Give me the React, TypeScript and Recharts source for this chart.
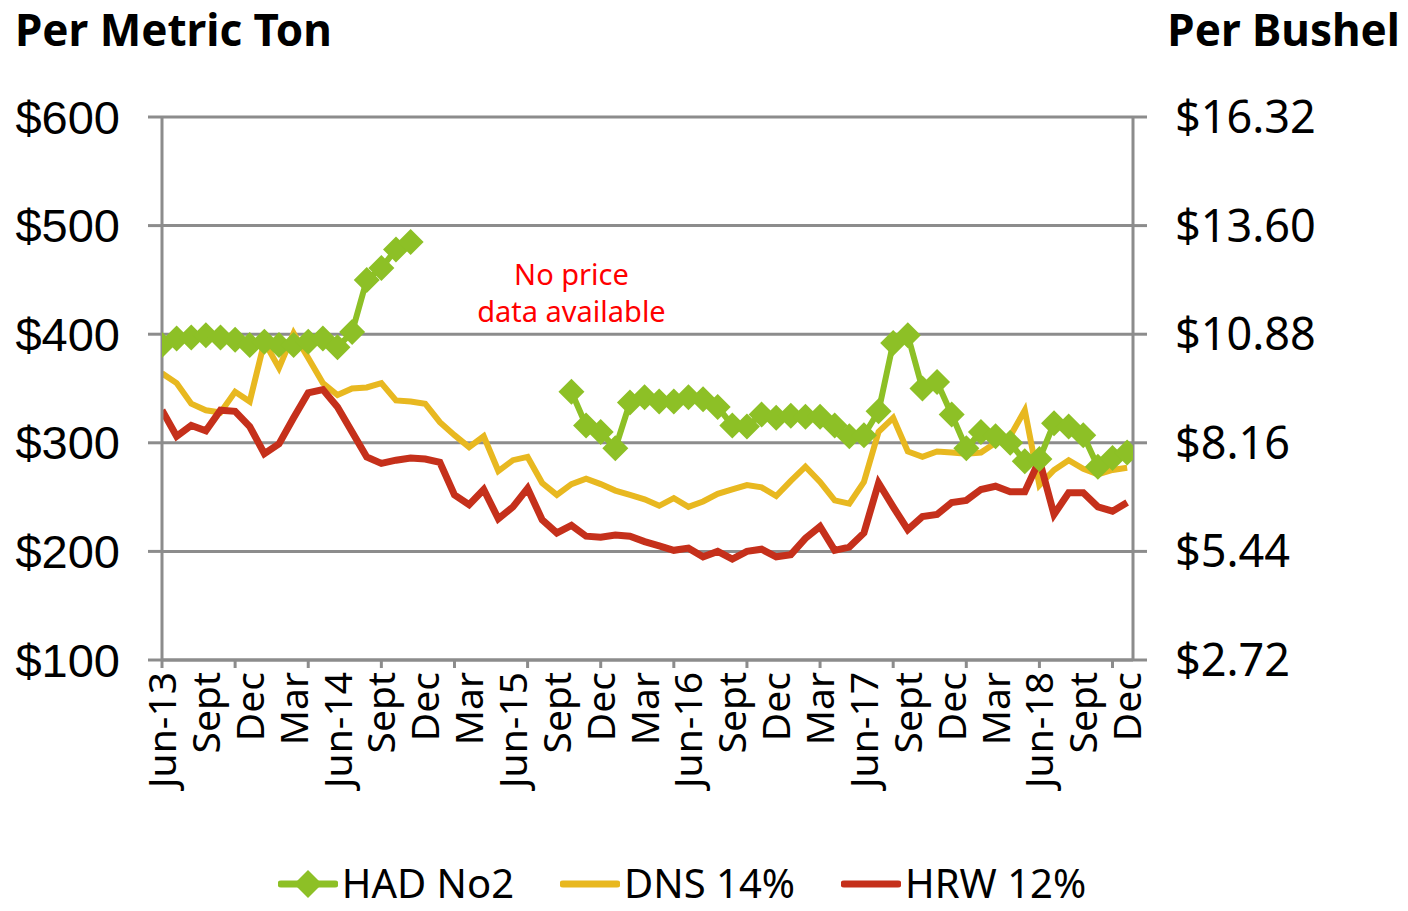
import React from 'react';
import {
  LineChart,
  Line,
  XAxis,
  YAxis,
  CartesianGrid,
  Legend,
  ReferenceDot
} from 'recharts';

// monthly prices, Jun-13 .. Dec-18 (67 months), $ per metric ton
const hadNo2: (number | null)[] = [
  390, 396, 397, 399, 397, 395, 390, 393, 390, 390, 393, 396, 388, 402, 450, 461, 478, 485,
  null, null, null, null, null, null, null, null, null, null,
  347, 316, 310, 295, 337, 342, 338, 338, 342, 340, 333, 316, 315, 326, 323, 325, 324, 324,
  316, 306, 307, 329, 392, 399, 350, 356, 326, 295, 310, 306, 300, 283, 285, 318, 315, 307,
  278, 286, 291
];

const dns14: number[] = [
  364, 355, 336, 330, 328, 347, 338, 393, 369, 401, 378, 355, 344, 350, 351, 355, 339, 338,
  336, 319, 307, 296, 306, 274, 284, 287, 263, 252, 262, 267, 262, 256, 252, 248, 242, 249,
  241, 246, 253, 257, 261, 259, 251, 265, 278, 264, 247, 244, 264, 310, 323, 292, 287, 292,
  291, 290, 291, 300, 306, 330, 261, 275, 284, 276, 271, 275, 277
];

const hrw12: number[] = [
  330, 306, 316, 311, 330, 329, 315, 290, 299, 323, 346, 349, 333, 310, 287, 281, 284, 286,
  285, 282, 252, 243, 257, 230, 241, 258, 229, 217, 224, 214, 213, 215, 214, 209, 205, 201,
  203, 195, 200, 193, 200, 202, 195, 197, 212, 223, 201, 204, 217, 263, 241, 220, 232, 234,
  245, 247, 257, 260, 255, 255, 284, 234, 254, 254, 241, 237, 245
];

// every third month gets a label
const monthLabels = [
  'Jun-13', 'Sept', 'Dec', 'Mar', 'Jun-14', 'Sept', 'Dec', 'Mar', 'Jun-15', 'Sept', 'Dec',
  'Mar', 'Jun-16', 'Sept', 'Dec', 'Mar', 'Jun-17', 'Sept', 'Dec', 'Mar', 'Jun-18', 'Sept', 'Dec'
];

const perTonTicks = [100, 200, 300, 400, 500, 600];
const perBushelLabels = ['$2.72', '$5.44', '$8.16', '$10.88', '$13.60', '$16.32'];

const seriesOrder = ['had', 'dns', 'hrw'];

const data = hadNo2.map((_, i) => ({
  i,
  had: hadNo2[i],
  dns: dns14[i],
  hrw: hrw12[i]
}));

// labels every 3 months, tick marks every 5 months
const xTicks = data.map(d => d.i).filter(i => i % 3 === 0 || i % 5 === 0);

const GREEN = '#8DC026';
const YELLOW = '#E8B820';
const RED = '#C5301B';
const GRAY = '#8C8C8C';

const MonthTick = (props: any) => {
  const { x, y, payload } = props;
  const i = payload.value;
  return (
    <g>
      {i % 5 === 0 && (
        <line x1={x} x2={x} y1={y} y2={y + 8} stroke={GRAY} strokeWidth={3} />
      )}
      {i % 3 === 0 && (
        <text
          transform={`translate(${x},${y + 12}) rotate(-90)`}
          textAnchor="end"
          dy="0.36em"
          fill="#000"
          fontSize={39}
          fontFamily="Noto Sans"
        >
          {monthLabels[i / 3]}
        </text>
      )}
    </g>
  );
};

const Diamond = (props: any) => {
  const { cx, cy, index } = props;
  if (cx == null || cy == null) return <g key={index} />;
  const s = 13;
  return (
    <polygon
      key={index}
      points={`${cx},${cy - s} ${cx + s},${cy} ${cx},${cy + s} ${cx - s},${cy}`}
      fill={GREEN}
    />
  );
};

const NoDataLabel = (props: any) => {
  const { viewBox } = props;
  const cx = viewBox.x + (viewBox.width || 0) / 2;
  const cy = viewBox.y + (viewBox.height || 0) / 2;
  return (
    <g fill="#FF0000" fontSize={29} fontFamily="Noto Sans">
      <text x={cx} y={cy - 8} textAnchor="middle">No price</text>
      <text x={cx} y={cy + 29} textAnchor="middle">data available</text>
    </g>
  );
};

const LegendContent = ({ payload }: any) => {
  const items = [...(payload || [])].sort(
    (a: any, b: any) => seriesOrder.indexOf(a.dataKey) - seriesOrder.indexOf(b.dataKey)
  );
  return (
    <div
      style={{
        display: 'flex',
        justifyContent: 'center',
        alignItems: 'center',
        gap: 46,
        height: 40,
        fontFamily: 'Noto Sans',
        fontSize: 40,
        lineHeight: '40px',
        color: '#000'
      }}
    >
      {items.map((entry: any) => (
        <div key={entry.value} style={{ display: 'flex', alignItems: 'center', height: 40 }}>
          <svg width={60} height={30} style={{ marginTop: 2 }}>
            <line x1={3} x2={57} y1={15} y2={15} stroke={entry.color} strokeWidth={7} strokeLinecap="round" />
            {entry.dataKey === 'had' && (
              <polygon points="30,1 44,15 30,29 16,15" fill={entry.color} />
            )}
          </svg>
          <span style={{ marginLeft: 4 }}>{entry.value}</span>
        </div>
      ))}
    </div>
  );
};

export default function App() {
  return (
    <div style={{ position: 'absolute', left: 0, top: 0, width: 1408, height: 911, background: '#fff' }}>
      <LineChart
        width={1408}
        height={911}
        data={data}
        margin={{ top: 117, right: 0, bottom: 0, left: 0 }}
      >
        <CartesianGrid vertical={false} stroke={GRAY} strokeWidth={3} />
        <XAxis
          dataKey="i"
          type="number"
          domain={[0, 66.4]}
          allowDataOverflow
          ticks={xTicks}
          interval={0}
          height={251}
          tickSize={0}
          tickMargin={0}
          tickLine={false}
          axisLine={{ stroke: GRAY, strokeWidth: 3 }}
          tick={<MonthTick />}
        />
        <YAxis
          type="number"
          domain={[100, 600]}
          allowDataOverflow
          ticks={perTonTicks}
          width={162}
          tickSize={14}
          tickMargin={28}
          axisLine={{ stroke: GRAY, strokeWidth: 3 }}
          tickLine={{ stroke: GRAY, strokeWidth: 3 }}
          tick={{ fill: '#000', fontSize: 47, fontFamily: 'Liberation Sans' }}
          tickFormatter={(v: number) => `$${v}`}
        />
        <YAxis
          yAxisId="right"
          orientation="right"
          type="number"
          domain={[100, 600]}
          allowDataOverflow
          ticks={perTonTicks}
          width={275}
          tickSize={14}
          tickMargin={28}
          axisLine={{ stroke: GRAY, strokeWidth: 3 }}
          tickLine={{ stroke: GRAY, strokeWidth: 3 }}
          tick={{ fill: '#000', fontSize: 45, fontFamily: 'Noto Sans' }}
          tickFormatter={(v: number) => perBushelLabels[perTonTicks.indexOf(v)]}
        />
        <Line
          dataKey="had"
          name="HAD No2"
          stroke={GREEN}
          strokeWidth={6}
          dot={<Diamond />}
          activeDot={false}
          connectNulls={false}
          isAnimationActive={false}
        />
        <Line
          dataKey="dns"
          name="DNS 14%"
          stroke={YELLOW}
          strokeWidth={6}
          dot={false}
          activeDot={false}
          isAnimationActive={false}
        />
        <Line
          dataKey="hrw"
          name="HRW 12%"
          stroke={RED}
          strokeWidth={7}
          dot={false}
          activeDot={false}
          isAnimationActive={false}
        />
        <ReferenceDot x={28} y={438} r={0} stroke="none" fill="none" label={<NoDataLabel />} />
        <Legend
          layout="horizontal"
          verticalAlign="middle"
          align="center"
          content={<LegendContent />}
          wrapperStyle={{ top: 863, left: 0, width: 1364, height: 40 }}
        />
      </LineChart>
      <svg
        width={1408}
        height={911}
        style={{ position: 'absolute', left: 0, top: 0, pointerEvents: 'none' }}
      >
        <text x={15} y={46} fontSize={44} fontWeight="bold" fontFamily="Noto Sans" fill="#000">
          Per Metric Ton
        </text>
        <text x={1400} y={46} textAnchor="end" fontSize={44} fontWeight="bold" fontFamily="Noto Sans" fill="#000">
          Per Bushel
        </text>
      </svg>
    </div>
  );
}
